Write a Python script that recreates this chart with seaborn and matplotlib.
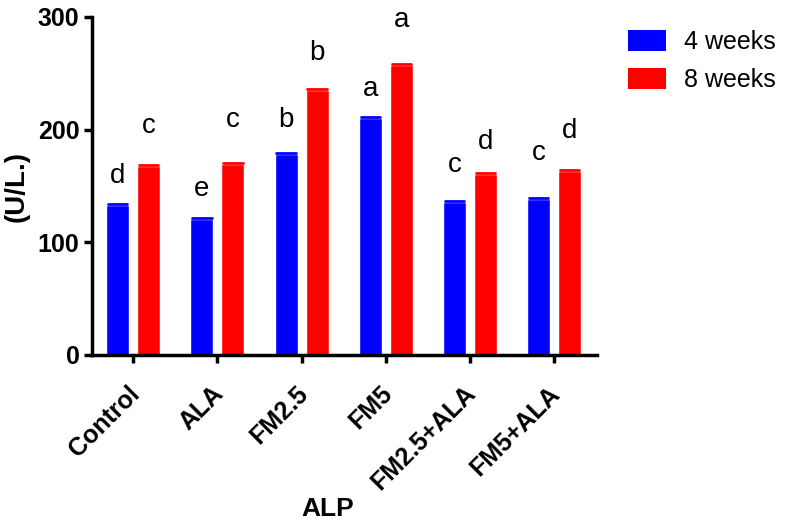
import numpy as np
import pandas as pd
import matplotlib
matplotlib.use("Agg")
import matplotlib.pyplot as plt
import seaborn as sns

categories = ["Control", "ALA", "FM2.5", "FM5", "FM2.5+ALA", "FM5+ALA"]
groups = ["4 weeks", "8 weeks"]
vals_4w = [133.5, 120.5, 178.5, 210.5, 136.0, 138.5]
vals_8w = [167.5, 169.5, 235.0, 257.5, 161.0, 163.5]
err_4w = [0.8, 0.8, 0.8, 0.8, 0.8, 0.8]
err_8w = [0.8, 0.8, 0.8, 0.8, 0.8, 0.8]
letters_4w = ["d", "e", "b", "a", "c", "c"]
letters_8w = ["c", "c", "b", "a", "d", "d"]
letter_y_4w = [153, 141, 202, 230, 162, 173]
letter_y_8w = [197, 202, 262, 291, 183, 193]
colors = {"4 weeks": "#0000FF", "8 weeks": "#FF0000"}

sns.set_style("white")
plt.rcParams["font.family"] = ["Liberation Sans", "DejaVu Sans"]
plt.rcParams["text.color"] = "black"
plt.rcParams["axes.labelcolor"] = "black"
plt.rcParams["xtick.color"] = "black"
plt.rcParams["ytick.color"] = "black"

df = pd.DataFrame({
    "Group": categories * 2,
    "Period": [groups[0]] * len(categories) + [groups[1]] * len(categories),
    "Value": vals_4w + vals_8w,
})

fig = plt.figure(figsize=(7.87, 5.26), dpi=100)
ax = fig.add_axes([92 / 787, 1 - 355 / 526, (597 - 92) / 787, (355 - 17) / 526])

sns.barplot(data=df, x="Group", y="Value", hue="Period", order=categories,
            hue_order=groups, palette=colors, width=0.736, gap=0.258,
            errorbar=None, saturation=1, ax=ax, legend=False)

errs = [err_4w, err_8w]
lets = [letters_4w, letters_8w]
lys = [letter_y_4w, letter_y_8w]
containers = list(ax.containers)
for ci, cont in enumerate(containers):
    col = colors[groups[ci]]
    for bi, p in enumerate(cont.patches):
        cx = p.get_x() + p.get_width() / 2
        h = p.get_height()
        top = h + errs[ci][bi]
        ax.plot([p.get_x() + p.get_width() * 0.08, p.get_x() + p.get_width() * 0.92],
                [top, top], color=col, lw=2, solid_capstyle="round")
        ax.text(cx, lys[ci][bi], lets[ci][bi], ha="center", va="baseline",
                fontsize=20, color="black")

ax.set_ylim(0, 300)
ax.set_xlim(-0.49, len(categories) - 1 + 0.51)
ax.set_yticks([0, 100, 200, 300])
ax.set_xticks(range(len(categories)))
ax.set_xticklabels([])
for i, cat in enumerate(categories):
    ax.annotate(cat, xy=(i, 0), xycoords=("data", "axes fraction"),
                xytext=(-6 * 0.72, -(12.5 + 14) * 0.72), textcoords="offset points",
                rotation=45, ha="right", va="top", rotation_mode="anchor",
                fontsize=18, fontweight="bold", color="black", annotation_clip=False)
for lab in ax.get_yticklabels():
    lab.set_fontsize(18)
    lab.set_fontweight("bold")
ax.set_ylabel("(U/L.)", fontsize=20, fontweight="bold", labelpad=6)
ax.set_xlabel("ALP", fontsize=19, fontweight="bold")
ax.xaxis.set_label_coords((328 - 92) / 505, (355 - 497) / 338)
ax.xaxis.label.set_va("top")

for s in ["top", "right"]:
    ax.spines[s].set_visible(False)
for s in ["left", "bottom"]:
    ax.spines[s].set_linewidth(2.5)
    ax.spines[s].set_color("black")
ax.tick_params(axis="both", direction="out", length=6, width=2.5, color="black",
               bottom=True, left=True, pad=3)

handles = [plt.Rectangle((0, 0), 1, 1, facecolor=colors[g], edgecolor="none") for g in groups]
fig.legend(handles, groups, loc="upper left", bbox_to_anchor=(628 / 787, 1 - 30 / 526),
           frameon=False, fontsize=18, handlelength=1.5, handleheight=0.9,
           handletextpad=0.75, labelspacing=0.55, borderaxespad=0, borderpad=0)

fig.savefig("out.png", dpi=100)
